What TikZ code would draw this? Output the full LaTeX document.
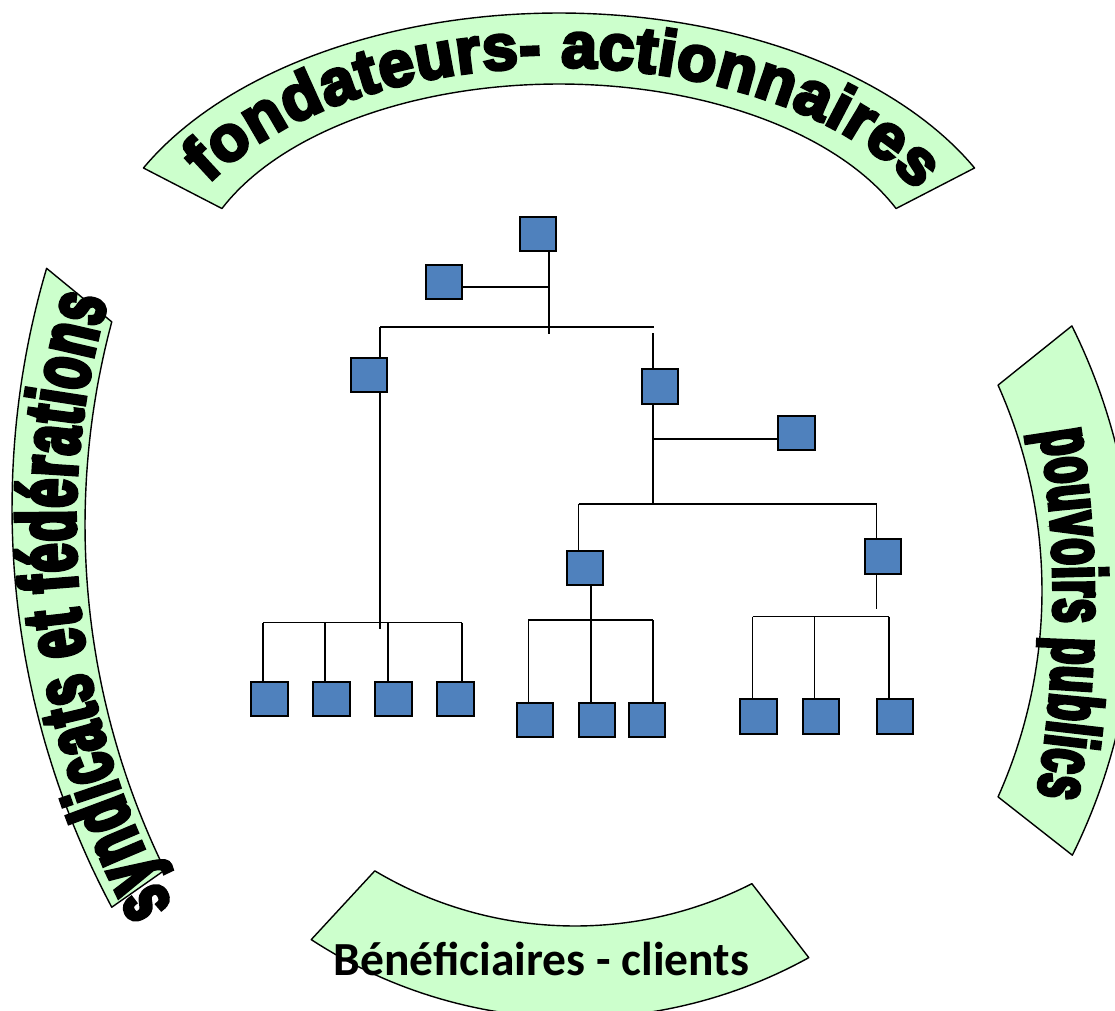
\documentclass[tikz,border=0pt]{standalone}
\usepackage{fontspec}
\usetikzlibrary{decorations.text}
\newfontfamily\topfont{Liberation Sans Bold}[FakeBold=5,FakeStretch=1.0]
\newfontfamily\leftfont{Liberation Sans Bold}[FakeBold=5,FakeStretch=0.62]
\newfontfamily\rightfont{Liberation Sans Bold}[FakeBold=5,FakeStretch=0.57]
\newfontfamily\botfont{Carlito Bold}
\definecolor{bandgreen}{HTML}{CCFFCC}
\definecolor{boxblue}{HTML}{4F81BD}
\begin{document}
\begin{tikzpicture}[x=1pt,y=-1pt,
  band/.style={draw=black,line width=1.4pt,fill=bandgreen,line join=round},
  boxn/.style={draw=black,fill=boxblue,line width=1.6pt,minimum width=36.5pt,minimum height=34.5pt,inner sep=0pt,outer sep=0pt},
  conn/.style={draw=black,line width=1.5pt}]
\useasboundingbox (0,0) rectangle (1115,1010);
\clip (0,0) rectangle (1115,1010);
% bands
\draw[band] plot[domain=153.1:26.9,samples=90] ({559+466*cos(\x)},{296-283*sin(\x)})
  -- plot[domain=23.3:156.7,samples=90] ({559+367*cos(\x)},{290-206*sin(\x)}) -- cycle;
\draw[band] plot[domain=163.6:208.05,samples=60] ({861+849*cos(\x)},{508-849*sin(\x)})
  -- plot[domain=206.07:165.0,samples=60] ({870+785*cos(\x)},{525-785*sin(\x)}) -- cycle;
\draw[band] plot[domain=26.4:-26.3,samples=60] ({537.8+596.3*cos(\x)},{591-596.3*sin(\x)})
  -- plot[domain=-24.1:24.1,samples=60] ({537.8+504.2*cos(\x)},{591-504.2*sin(\x)}) -- cycle;
\draw[band] plot[domain=239.2:296.9,samples=60] ({575+391*cos(\x)},{535-391*sin(\x)})
  -- plot[domain=298.95:236.9,samples=60] ({575+483*cos(\x)},{535-483*sin(\x)}) -- cycle;
% band texts
\path[decorate,decoration={text along path,text align={fit to path},
  text={|\topfont\fontsize{64}{70}\selectfont|fondateurs- actionnaires}}]
  plot[domain=151.3:26.6,samples=120] ({559+400*cos(\x)},{292-225*sin(\x)});
\path[decorate,decoration={text along path,text align={fit to path},
  text={|\leftfont\fontsize{82}{90}\selectfont|syndicats et fédérations}}]
  plot[domain=208.6:163.6,samples=100] ({870+795*cos(\x)},{525-795*sin(\x)});
\path[decorate,decoration={text along path,text align={fit to path},
  text={|\rightfont\fontsize{75}{84}\selectfont|pouvoirs publics}}]
  plot[domain=9.05:-9.95,samples=100] ({-46+1100*cos(\x)},{605-1100*sin(\x)});
\node[anchor=base,inner sep=0pt,font=\botfont\fontsize{47.5}{52}\selectfont] (ben) at (541.5,975) {Bénéficiaires - clients};
% junction coordinates
\coordinate (j0) at (549,334);
\coordinate (ja) at (549,287);
\coordinate (h1l) at (380,327);
\coordinate (h1r) at (654,327);
\coordinate (lend) at (380,629);
\coordinate (rtop) at (653,333);
\coordinate (rbot) at (653,504);
\coordinate (jr1) at (653,439);
\coordinate (h2l) at (578.5,504);
\coordinate (h2r) at (876.5,504);
\coordinate (rrend) at (876.5,609);
\coordinate (g1) at (263,622.7);
\coordinate (g2) at (325,622.7);
\coordinate (g3) at (388,622.7);
\coordinate (g4) at (462,622.7);
\coordinate (mv) at (591,620);
\coordinate (m1) at (528.4,620);
\coordinate (m3) at (653,620);
\coordinate (k1) at (752.5,616.7);
\coordinate (k2) at (814.5,616.7);
\coordinate (k3) at (888.8,616.7);
% boxes
\node[boxn] (top) at (538,234) {};
\node[boxn] (asst) at (444,282) {};
\node[boxn] (L) at (369,375) {};
\node[boxn] (R) at (660,386.5) {};
\node[boxn] (RA) at (796.5,433) {};
\node[boxn] (M) at (585,568) {};
\node[boxn] (RR) at (883,556.5) {};
\node[boxn] (a1) at (269.5,699) {};
\node[boxn] (a2) at (331.5,699) {};
\node[boxn] (a3) at (393.5,699) {};
\node[boxn] (a4) at (455.5,699) {};
\node[boxn] (b1) at (535,720) {};
\node[boxn] (b2) at (597,720) {};
\node[boxn] (b3) at (647,720) {};
\node[boxn] (c1) at (758.5,716.5) {};
\node[boxn] (c2) at (821,716.5) {};
\node[boxn] (c3) at (895,716.5) {};
% connectors
\draw[conn] (top.south -| j0) -- (j0);
\draw[conn] (asst.east |- ja) -- (ja);
\draw[conn] (h1l) -- (h1r);
\draw[conn] (h1l) -- (h1l |- L.north);
\draw[conn] (L.south -| h1l) -- (lend);
\draw[conn] (rtop) -- (rtop |- R.north);
\draw[conn] (R.south -| rtop) -- (rbot);
\draw[conn] (jr1) -- (jr1 -| RA.west);
\draw[conn] (h2l) -- (h2r);
\draw[conn] (h2l) -- (h2l |- M.north);
\draw[conn] (h2r) -- (h2r |- RR.north);
\draw[conn] (RR.south -| h2r) -- (rrend);
\draw[conn] (g1) -- (g4);
\foreach \g/\b in {g1/a1,g2/a2,g3/a3,g4/a4} \draw[conn] (\g) -- (\g |- \b.north);
\draw[conn] (M.south -| mv) -- (mv |- b2.north);
\draw[conn] (m1) -- (m3);
\draw[conn] (m1) -- (m1 |- b1.north);
\draw[conn] (m3) -- (m3 |- b3.north);
\draw[conn] (k1) -- (k3);
\foreach \k/\c in {k1/c1,k2/c2,k3/c3} \draw[conn] (\k) -- (\k |- \c.north);
\end{tikzpicture}
\end{document}
